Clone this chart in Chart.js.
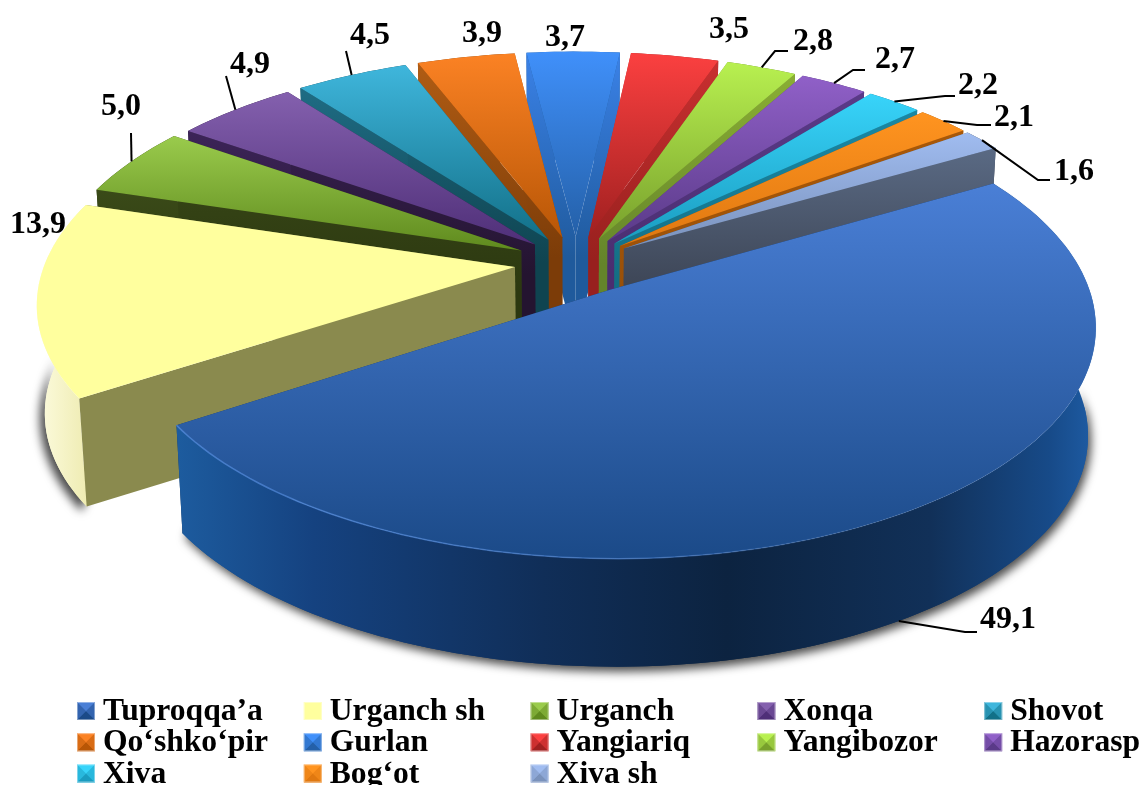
<!DOCTYPE html>
<html>
<head>
<meta charset="utf-8">
<style>
  html, body { margin: 0; padding: 0; background: #fff; }
  #wrap { width: 1143px; height: 785px; }
</style>
<script src="https://cdn.jsdelivr.net/npm/chart.js@4"></script>
</head>
<body>
<div id="wrap"><canvas id="pie" width="1143" height="785"></canvas></div>
<script>
const categories = ['Tuproqqa’a', 'Urganch sh', 'Urganch', 'Xonqa', 'Shovot', 'Qo‘shko‘pir', 'Gurlan',
  'Yangiariq', 'Yangibozor', 'Hazorasp', 'Xiva', 'Bog‘ot', 'Xiva sh'];
const shares = [49.1, 13.9, 5.0, 4.9, 4.5, 3.9, 3.7, 3.5, 2.8, 2.7, 2.2, 2.1, 1.6];
const shareLabels = ['49,1', '13,9', '5,0', '4,9', '4,5', '3,9', '3,7', '3,5', '2,8', '2,7', '2,2', '2,1', '1,6'];

// top surface light -> dark, cut face light -> dark
const topLight = ['#4a7fd6', '#ffff9e', '#9acb4c', '#8460ae', '#3fb6dc', '#fb8224', '#4090fa', '#fb4040', '#b8f050', '#9060c8', '#38d4fa', '#ff9420', '#a0bcf0'];
const topDark = ['#1b4a88', '#ffff9e', '#5f8a1e', '#4f2f78', '#127088', '#b85606', '#2460a8', '#a02020', '#78a02c', '#5a3a88', '#1a9cc0', '#e07810', '#7a92bc'];
const faceLight = ['#12345f', '#8a8a4e', '#3a4a18', '#3c2458', '#1f6c84', '#b05c14', '#3b82e8', '#c83030', '#8aae34', '#5a3a88', '#1a88a4', '#a85808', '#5a6a84'];
const faceColors = ['#12345f', '#8a8a4e', '#2c3810', '#241430', '#0f4450', '#7c3c08', '#1f5a9c', '#98201e', '#64842a', '#4a2e70', '#136e84', '#9a5008', '#3c4454'];
const explode = [51, 48, 48, 45, 45, 45, 45, 45, 45, 45, 45, 45, 45];

// camera for the tilted pie
const view = { cx: 576, cy: 263, rx: 470, ry: 220, persp: 0.15, depth: 108, conv: 0.015 };

// where the value texts sit, and the rest of their leader line
const labelPos = [[1008, 620], [38, 225], [121, 107], [250, 65], [370, 36], [482, 34], [565, 38],
  [729, 30], [813, 42], [895, 60], [978, 86], [1014, 118], [1074, 172]];
const leaders = [[[965, 632], [977, 632]], null, [[131, 133]], [[226, 76]], [[346, 51]], null, null, null,
  [[775, 51], [788, 51]], [[853, 70], [865, 70]], [[945, 96], [955, 96]], [[977, 125], [991, 125]], [[1038, 180], [1050, 180]]];

function project(u, v, z) {
  const s = 1 / (1 - view.persp * v);
  return {
    x: view.cx + u * view.rx * s * (1 - z * view.conv),
    y: view.cy + v * view.ry * s + z * view.depth
  };
}

function sliceGeometry(arc) {
  const p = arc.getProps(['startAngle', 'endAngle', 'outerRadius']);
  const mid = (p.startAngle + p.endAngle) / 2;
  const e = arc.options.offset / p.outerRadius;
  return { a0: p.startAngle, a1: p.endAngle, mid: mid, ou: Math.cos(mid) * e, ov: Math.sin(mid) * e };
}

function edgePoints(g, z) {
  const pts = [];
  const steps = Math.max(4, Math.ceil((g.a1 - g.a0) * 40));
  for (let k = 0; k <= steps; k++) {
    const a = g.a0 + (g.a1 - g.a0) * k / steps;
    pts.push(project(Math.cos(a) + g.ou, Math.sin(a) + g.ov, z));
  }
  return pts;
}

function tracePoly(ctx, pts) {
  ctx.beginPath();
  pts.forEach((pt, k) => { if (k) ctx.lineTo(pt.x, pt.y); else ctx.moveTo(pt.x, pt.y); });
  ctx.closePath();
}

function rimFill(ctx, i) {
  if (i === 0) {
    const g = ctx.createLinearGradient(175, 0, 1095, 0);
    g.addColorStop(0, '#1d5c9f');
    g.addColorStop(0.15, '#154280');
    g.addColorStop(0.4, '#102e58');
    g.addColorStop(0.6, '#0c2340');
    g.addColorStop(0.82, '#113058');
    g.addColorStop(0.95, '#174a88');
    g.addColorStop(1, '#1e5ca4');
    return g;
  }
  if (i === 1) {
    const g = ctx.createLinearGradient(35, 0, 90, 0);
    g.addColorStop(0, '#fdfce0');
    g.addColorStop(1, '#eeebb0');
    return g;
  }
  return faceColors[i];
}

// soft shadow under the lower edge of the two front slices: a thin band
// along that edge casts it, and the rim is painted over the band afterwards
function rimShadow(ctx, i, bottom) {
  const lowest = i === 0 ? 405 : 375;
  const edge = bottom.filter(pt => pt.y > lowest);
  const inner = edge.map(pt => ({ x: pt.x + (pt.x < view.cx ? 10 : -10), y: pt.y - 25 })).reverse();
  ctx.save();
  ctx.shadowColor = 'rgba(0,0,0,0.7)';
  ctx.shadowBlur = 10;
  ctx.shadowOffsetX = i === 0 ? 3 : -5;
  ctx.shadowOffsetY = 5;
  ctx.fillStyle = rimFill(ctx, i);
  tracePoly(ctx, edge.concat(inner));
  ctx.fill();
  ctx.restore();
}

function drawSlice(ctx, i, arc) {
  const g = sliceGeometry(arc);
  const top = edgePoints(g, 0);
  const bottom = edgePoints(g, 1);
  const apexTop = project(g.ou, g.ov, 0);
  const apexBottom = project(g.ou, g.ov, 1);
  const n = top.length - 1;

  function drawFace(corner, cornerBottom) {
    const fill = ctx.createLinearGradient(0, corner.y, 0, apexBottom.y);
    fill.addColorStop(0, faceLight[i]);
    fill.addColorStop(0.7, faceColors[i]);
    ctx.fillStyle = fill;
    tracePoly(ctx, [apexTop, corner, cornerBottom, apexBottom]);
    ctx.fill();
  }
  function drawFaces() {
    drawFace(top[0], bottom[0]);
    drawFace(top[n], bottom[n]);
  }

  // the big slice shows only its rim, so its faces go underneath
  if (i === 0) drawFaces();

  const rim = top.concat(bottom.slice().reverse());
  if (i < 2) rimShadow(ctx, i, bottom);
  ctx.fillStyle = rimFill(ctx, i);
  tracePoly(ctx, rim);
  ctx.fill();

  if (i !== 0) drawFaces();

  // top surface
  const surface = [apexTop].concat(top);
  const ys = surface.map(pt => pt.y);
  const grad = ctx.createLinearGradient(0, Math.min(...ys), 0, Math.max(...ys));
  grad.addColorStop(0, topLight[i]);
  grad.addColorStop(1, topDark[i]);
  ctx.fillStyle = grad;
  tracePoly(ctx, surface);
  ctx.fill();

  if (i === 0) {
    // thin bevel along the front edge, fades towards the right
    const bevel = ctx.createLinearGradient(175, 0, 1095, 0);
    bevel.addColorStop(0, 'rgba(80,135,215,0.85)');
    bevel.addColorStop(0.5, 'rgba(70,125,205,0.6)');
    bevel.addColorStop(0.75, 'rgba(70,125,205,0.12)');
    bevel.addColorStop(1, 'rgba(70,125,205,0.05)');
    ctx.strokeStyle = bevel;
    ctx.lineWidth = 1.5;
    ctx.beginPath();
    top.forEach((pt, k) => { if (k) ctx.lineTo(pt.x, pt.y); else ctx.moveTo(pt.x, pt.y); });
    ctx.stroke();
  }
}

function drawLabels(ctx, arcs) {
  ctx.strokeStyle = '#000';
  ctx.lineWidth = 2;
  arcs.forEach((arc, i) => {
    if (!leaders[i]) return;
    const g = sliceGeometry(arc);
    const start = project(Math.cos(g.mid) + g.ou, Math.sin(g.mid) + g.ov, i === 0 ? 1 : 0);
    ctx.beginPath();
    ctx.moveTo(start.x, start.y);
    leaders[i].forEach(pt => ctx.lineTo(pt[0], pt[1]));
    ctx.stroke();
  });
  ctx.fillStyle = '#000';
  ctx.font = 'bold 32px "Liberation Serif"';
  ctx.textAlign = 'center';
  ctx.textBaseline = 'middle';
  shareLabels.forEach((text, i) => ctx.fillText(text, labelPos[i][0], labelPos[i][1]));
}

function drawLegend(ctx) {
  ctx.font = 'bold 31.6px "Liberation Serif"';
  ctx.textAlign = 'left';
  ctx.textBaseline = 'middle';
  categories.forEach((name, i) => {
    const col = i % 5, row = Math.floor(i / 5);
    const x = 77 + col * 226.8, y = 702 + row * 31.2, w = 18;
    const c = x + w / 2, m = y + w / 2;
    ctx.fillStyle = topLight[i];
    ctx.fillRect(x, y, w, w);
    ctx.fillStyle = topDark[i];
    ctx.beginPath();
    ctx.moveTo(x, y + w); ctx.lineTo(c, m); ctx.lineTo(x + w, y + w);
    ctx.closePath();
    ctx.fill();
    ctx.globalAlpha = 0.5;
    ctx.beginPath();
    ctx.moveTo(x, y); ctx.lineTo(c, m); ctx.lineTo(x, y + w);
    ctx.moveTo(x + w, y); ctx.lineTo(c, m); ctx.lineTo(x + w, y + w);
    ctx.fill();
    ctx.globalAlpha = 1;
    ctx.strokeStyle = 'rgba(255,255,255,0.4)';
    ctx.lineWidth = 1;
    ctx.strokeRect(x + 0.5, y + 0.5, w - 1, w - 1);
    ctx.fillStyle = '#000';
    ctx.fillText(name, x + 26, y + 10);
  });
}

const pie3d = {
  id: 'pie3d',
  beforeDatasetsDraw(chart) {
    const ctx = chart.ctx;
    const arcs = chart.getDatasetMeta(0).data;
    const order = arcs.map((arc, i) => i).sort((a, b) =>
      Math.sin(sliceGeometry(arcs[a]).mid) - Math.sin(sliceGeometry(arcs[b]).mid));
    order.forEach(i => drawSlice(ctx, i, arcs[i]));
    drawLabels(ctx, arcs);
    drawLegend(ctx);
    return false;
  }
};

new Chart(document.getElementById('pie').getContext('2d'), {
  type: 'pie',
  data: {
    labels: categories,
    datasets: [{
      data: shares,
      backgroundColor: topLight,
      borderWidth: 0,
      offset: explode,
      hoverOffset: 0
    }]
  },
  options: {
    responsive: false,
    animation: false,
    rotation: 60,
    layout: { padding: 0 },
    plugins: { legend: { display: false }, tooltip: { enabled: false } }
  },
  plugins: [pie3d]
});
</script>
</body>
</html>
